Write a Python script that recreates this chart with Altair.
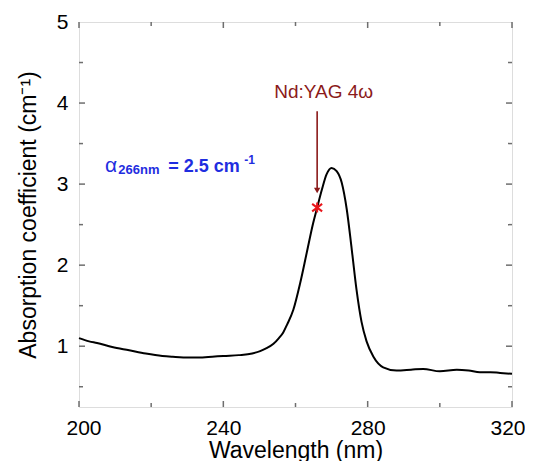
import altair as alt
import pandas as pd

# ---- data ----
wavelength = [200, 202.8, 205, 209.2, 213.9, 218.5, 223.1, 226, 230.5, 233, 236.9, 240,
              244.3, 248, 250.2, 251.7, 253.9, 255.4, 256.6, 257.7, 259.4, 261.3, 263.1,
              264.9, 266.0, 267.3, 268.6, 270.0, 271.4, 272.8, 274.2, 275.6, 276.9, 278.3,
              279.7, 281.6, 284.3, 288, 292, 295.4, 300, 304.7, 308, 311.1, 314, 316.7, 320]
absorption = [1.10, 1.06, 1.04, 0.99, 0.95, 0.91, 0.88, 0.87, 0.86, 0.86, 0.87, 0.88,
              0.89, 0.91, 0.94, 0.97, 1.03, 1.10, 1.17, 1.27, 1.45, 1.78, 2.15,
              2.52, 2.71, 2.93, 3.12, 3.20, 3.16, 3.02, 2.69, 2.19, 1.70, 1.30,
              1.06, 0.87, 0.74, 0.70, 0.71, 0.72, 0.69, 0.71, 0.70, 0.68, 0.68, 0.67, 0.66]

marker_wl = [266.0]
marker_abs = [2.71]

x_major = [200, 240, 280, 320]
x_minor = [220, 260, 300]
y_major = [1, 2, 3, 4, 5]
y_minor = [0.5, 1.5, 2.5, 3.5, 4.5]

X_DOM = [200, 320]
Y_DOM = [0.25, 5]
W, H = 433, 385

FONT = "Liberation Sans"
FRAME = "#6e6e6e"
DARKRED = "#8b1a1a"
BLUE = "#1f2ee0"

df = pd.DataFrame({"wl": wavelength, "a": absorption})
xs = alt.Scale(domain=X_DOM, nice=False, zero=False)
ys = alt.Scale(domain=Y_DOM, nice=False, zero=False)

line = alt.Chart(df).mark_line(color="black", strokeWidth=2, interpolate="monotone").encode(
    x=alt.X("wl:Q", scale=xs, title="Wavelength (nm)",
            axis=alt.Axis(values=x_major, domain=False, ticks=False, grid=False,
                          format="d", labelFlush=True, labelFlushOffset=13,
                          labelFontSize=21, labelFont=FONT, labelColor="black",
                          labelPadding=10, titleFontSize=23, titleFont=FONT,
                          titleFontWeight="normal", titleColor="black", titlePadding=1)),
    y=alt.Y("a:Q", scale=ys, title="Absorption coefficient (cm⁻¹)",
            axis=alt.Axis(values=y_major, domain=False, ticks=False, grid=False,
                          format="d", labelFlush=False,
                          labelFontSize=21, labelFont=FONT, labelColor="black",
                          labelPadding=11, titleFontSize=23, titleFont=FONT,
                          titleFontWeight="normal", titleColor="black", titlePadding=16)),
)

def xticks(vals, length):
    d = pd.DataFrame({"t": vals})
    bottom = alt.Chart(d).mark_rule(color=FRAME, strokeWidth=1.5).encode(
        x=alt.X("t:Q", scale=xs), y=alt.value(H), y2=alt.value(H - length))
    top = alt.Chart(d).mark_rule(color=FRAME, strokeWidth=1.5).encode(
        x=alt.X("t:Q", scale=xs), y=alt.value(0), y2=alt.value(length))
    return [bottom, top]

def yticks(vals, length):
    d = pd.DataFrame({"t": vals})
    left = alt.Chart(d).mark_rule(color=FRAME, strokeWidth=1.5).encode(
        y=alt.Y("t:Q", scale=ys), x=alt.value(0), x2=alt.value(length))
    right = alt.Chart(d).mark_rule(color=FRAME, strokeWidth=1.5).encode(
        y=alt.Y("t:Q", scale=ys), x=alt.value(W), x2=alt.value(W - length))
    return [left, right]

ticks = (xticks(x_major, 6) + xticks(x_minor, 4) +
         yticks(y_major[:-1], 6) + yticks(y_minor, 4))

# marker (red asterisk)
mdf = pd.DataFrame({"wl": marker_wl, "a": marker_abs})
star = alt.Chart(mdf).mark_point(
    shape="M-1,-0.75L1,0.75M-1,0.75L1,-0.75M0,-1L0,1", size=100, color="#e8161b",
    strokeWidth=2, filled=False, opacity=1).encode(
    x=alt.X("wl:Q", scale=xs), y=alt.Y("a:Q", scale=ys))

# arrow
arrow = alt.Chart(mdf).mark_rule(color=DARKRED, strokeWidth=1.6).encode(
    x=alt.X("wl:Q", scale=xs), y=alt.datum(3.90), y2=alt.datum(2.93))
head = alt.Chart(mdf).mark_point(shape="triangle-down", size=40, filled=True,
                                 color=DARKRED, opacity=1).encode(
    x=alt.X("wl:Q", scale=xs), y=alt.datum(2.92))

nd = alt.Chart(mdf).mark_text(text="Nd:YAG 4ω", font=FONT, fontSize=19, color=DARKRED,
                              align="center", baseline="alphabetic").encode(
    x=alt.datum(267.8), y=alt.datum(4.067))

def t(txt, xv, yv, size, weight="bold"):
    return alt.Chart(mdf).mark_text(text=txt, font=FONT, fontSize=size, fontWeight=weight,
                                    color=BLUE, align="left", baseline="alphabetic").encode(
        x=alt.datum(xv), y=alt.datum(yv))

alpha = [
    t("α", 207.2, 3.153, 21, "normal"),
    t("266nm", 210.9, 3.12, 13),
    t("= 2.5 cm", 224.75, 3.153, 18),
    t("-1", 245.8, 3.243, 12),
]

chart = alt.layer(line, *ticks, arrow, head, star, nd, *alpha).properties(
    width=W, height=H,
    autosize=alt.AutoSizeParams(type="none"),
    padding={"left": 71, "top": 14, "right": 13, "bottom": 54},
).configure_view(stroke=FRAME, strokeWidth=1.5).configure(background="white")

chart.save("out.html", embed_options={"renderer": "svg", "actions": False})
